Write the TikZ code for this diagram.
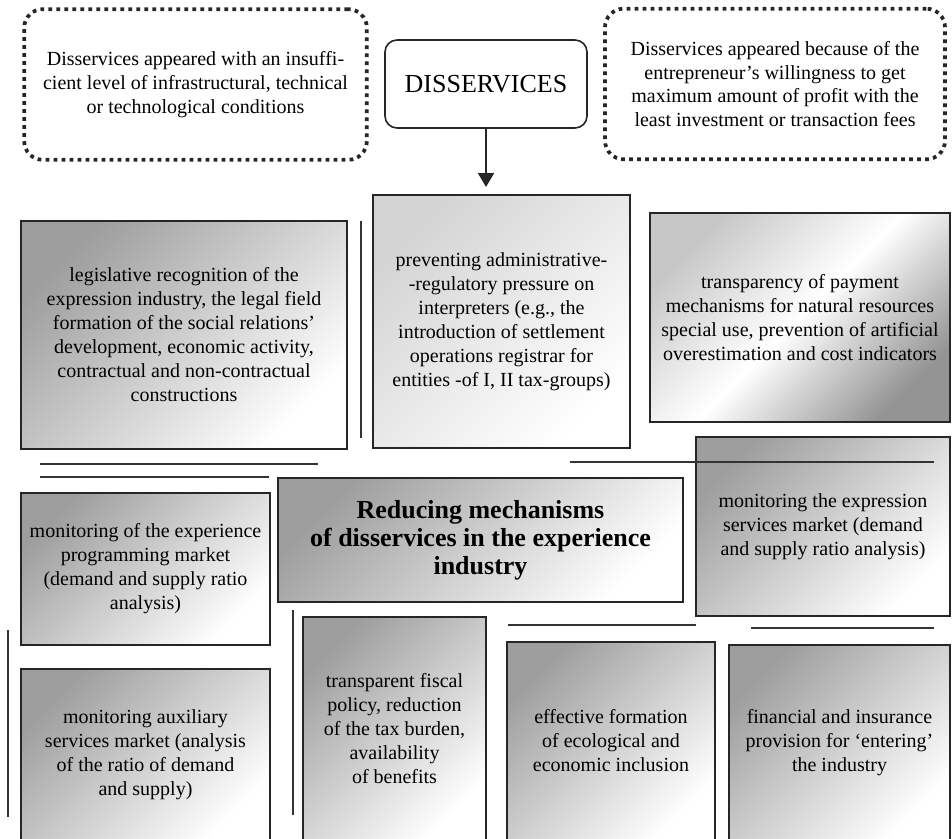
\documentclass[tikz,border=0pt]{standalone}
\usepackage{fontspec}
\setmainfont{Liberation Serif}
\usetikzlibrary{arrows.meta,positioning,calc}

\begin{document}
\begin{tikzpicture}[
    x=0.75pt, y=-0.75pt,
    gbox/.style={rectangle,draw=black!85,line width=1.3pt,outer sep=0pt,inner sep=2pt,align=center,
        font=\fontsize{15}{18}\selectfont,top color=black!38,bottom color=white,shading angle=45},
    lightbox/.style={gbox,top color=black!17,bottom color=white,shading angle=45},
    midbox/.style={gbox,top color=black!22,bottom color=black!42,middle color=white,shading angle=45},
    dotbox/.style={rectangle,draw=black!85,line width=2.8pt,dash pattern=on 2.8pt off 3.2pt,rounded corners=14pt,
        align=center,font=\fontsize{15}{17.8}\selectfont,minimum width=257pt,minimum height=113pt},
    headbox/.style={rectangle,draw=black!85,line width=1.2pt,rounded corners=9pt,outer sep=0pt,
        font=\fontsize{19.5}{22}\selectfont,minimum width=151.5pt,minimum height=66pt},
    sep/.style={line width=1.3pt,draw=black!80},
    arrow/.style={line width=1.5pt,draw=black!85,-{Triangle[width=12pt,length=10.5pt]},shorten >=6pt}
]
    \useasboundingbox (0,0) rectangle (952,838);
    \clip (0,0) rectangle (952,838);

    % top row
    \node[dotbox] (why1) at (195.5,84.5) {Disservices appeared with an insuffi-\\cient level of infrastructural, technical\\or technological conditions};
    \node[dotbox,minimum width=255pt] (why2) at (775,84) {Disservices appeared because of the\\entrepreneur's willingness to get\\maximum amount of profit with the\\least investment or transaction fees};
    \node[headbox] (dis) at (486,84) {DISSERVICES};

    % mechanisms
    \node[lightbox,minimum width=192.75pt,minimum height=189.75pt] (admin) at (501.5,321.5) {preventing administrative-\\-regulatory pressure on\\interpreters (e.g., the\\introduction of settlement\\operations registrar for\\entities -of I, II tax-groups)};
    \node[gbox,minimum width=244.5pt,minimum height=171pt] (legal) at (184,335) {legislative recognition of the\\expression industry, the legal field\\formation of the social relations'\\development, economic activity,\\contractual and non-contractual\\constructions};
    \node[midbox,minimum width=225pt,minimum height=156.75pt] (pay) at (800,317.5) {transparency of payment\\mechanisms for natural resources\\special use, prevention of artificial\\overestimation and cost indicators};
    \node[gbox,minimum width=190.5pt,minimum height=134.25pt] (expr) at (823,526.5) {monitoring the expression\\services market (demand\\and supply ratio analysis)};
    \node[gbox,minimum width=303.75pt,minimum height=93pt,font=\fontsize{19.5}{21}\selectfont\bfseries] (core) at (480.5,540) {Reducing mechanisms\\of disservices in the experience\\industry};
    \node[gbox,minimum width=186.75pt,minimum height=114pt] (prog) at (145.5,569) {monitoring of the experience\\programming market\\(demand and supply ratio\\analysis)};
    \node[gbox,minimum width=186.75pt,minimum height=128.25pt] (aux) at (145.5,754.5) {monitoring auxiliary\\services market (analysis\\of the ratio of demand\\and supply)};
    \node[gbox,minimum width=137.25pt,minimum height=167.25pt] (fisc) at (394.5,728.5) {transparent fiscal\\policy, reduction\\of the tax burden,\\availability\\of benefits};
    \node[gbox,minimum width=156pt,minimum height=148.5pt] (eco) at (611,741) {effective formation\\of ecological and\\economic inclusion};
    \node[gbox,minimum width=165.75pt,minimum height=146.25pt] (fin) at (839.5,742.5) {financial and insurance\\provision for `entering'\\the industry};

    \draw[arrow] (dis.south) -- (dis.south |- admin.north);

    % separator strokes
    \draw[sep] (361,221) -- (361,438);
    \draw[sep] (40,464) -- (318,464);
    \draw[sep] (40,477) -- (269,477);
    \draw[sep] (570,462) -- (934,462);
    \draw[sep] (8,630) -- (8,817);
    \draw[sep] (293,610) -- (293,815);
    \draw[sep] (508,625) -- (696,625);
    \draw[sep] (751,628) -- (934,628);
\end{tikzpicture}
\end{document}
